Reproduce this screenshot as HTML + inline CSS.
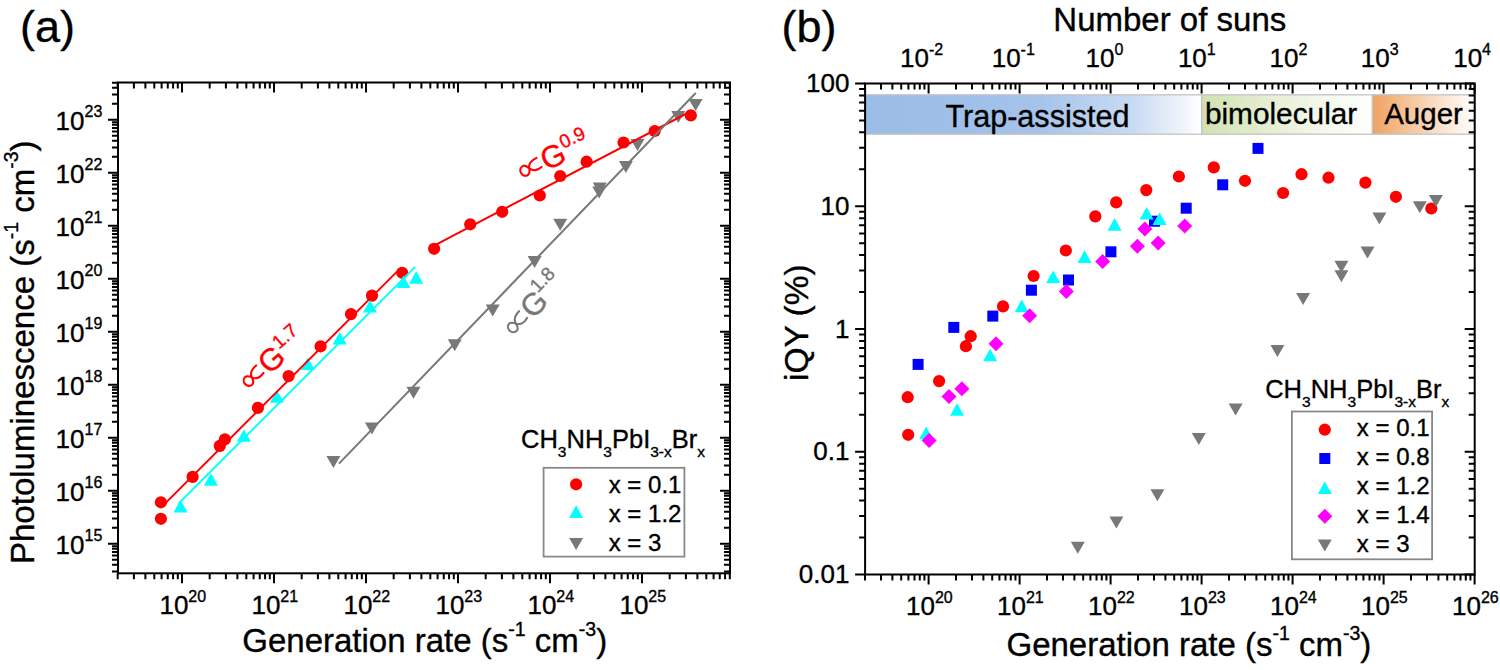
<!DOCTYPE html><html><head><meta charset="utf-8"><style>html,body{margin:0;padding:0;background:#fff;overflow:hidden}svg{display:block}text{stroke-width:0.35px}</style></head><body>
<svg width="1500" height="670" viewBox="0 0 1500 670" font-family='"Liberation Sans", sans-serif'>
<rect width="1500" height="670" fill="#fff"/>
<text x="20.0" y="42.1" font-size="45" text-anchor="start" fill="#000" stroke="#000" >(a)</text>
<path d="M326.4 456.0L340.4 456.0L333.4 468.0Z" fill="#787878"/>
<path d="M364.9 422.5L378.9 422.5L371.9 434.5Z" fill="#787878"/>
<path d="M406.5 386.7L420.5 386.7L413.5 398.7Z" fill="#787878"/>
<path d="M447.7 339.2L461.7 339.2L454.7 351.2Z" fill="#787878"/>
<path d="M485.7 304.5L499.7 304.5L492.7 316.5Z" fill="#787878"/>
<path d="M527.6 256.0L541.6 256.0L534.6 268.0Z" fill="#787878"/>
<path d="M553.2 218.8L567.2 218.8L560.2 230.8Z" fill="#787878"/>
<path d="M592.7 182.5L606.7 182.5L599.7 194.5Z" fill="#787878"/>
<path d="M592.2 186.6L606.2 186.6L599.2 198.6Z" fill="#787878"/>
<path d="M618.9 161.0L632.9 161.0L625.9 173.0Z" fill="#787878"/>
<path d="M630.5 139.0L644.5 139.0L637.5 151.0Z" fill="#787878"/>
<path d="M671.3 111.0L685.3 111.0L678.3 123.0Z" fill="#787878"/>
<path d="M688.6 99.0L702.6 99.0L695.6 111.0Z" fill="#787878"/>
<circle cx="160.9" cy="518.8" r="6.1" fill="#ff0000"/>
<circle cx="160.9" cy="502.3" r="6.1" fill="#ff0000"/>
<circle cx="192.6" cy="476.9" r="6.1" fill="#ff0000"/>
<circle cx="219.8" cy="445.9" r="6.1" fill="#ff0000"/>
<circle cx="224.9" cy="439.3" r="6.1" fill="#ff0000"/>
<circle cx="257.9" cy="407.9" r="6.1" fill="#ff0000"/>
<circle cx="288.6" cy="376.1" r="6.1" fill="#ff0000"/>
<circle cx="320.6" cy="346.3" r="6.1" fill="#ff0000"/>
<circle cx="351.0" cy="314.1" r="6.1" fill="#ff0000"/>
<circle cx="372.0" cy="295.6" r="6.1" fill="#ff0000"/>
<circle cx="402.2" cy="272.8" r="6.1" fill="#ff0000"/>
<circle cx="434.1" cy="248.8" r="6.1" fill="#ff0000"/>
<circle cx="470.2" cy="224.3" r="6.1" fill="#ff0000"/>
<circle cx="502.2" cy="211.8" r="6.1" fill="#ff0000"/>
<circle cx="539.8" cy="195.5" r="6.1" fill="#ff0000"/>
<circle cx="560.2" cy="176.0" r="6.1" fill="#ff0000"/>
<circle cx="586.6" cy="161.7" r="6.1" fill="#ff0000"/>
<circle cx="623.5" cy="142.5" r="6.1" fill="#ff0000"/>
<circle cx="654.7" cy="131.0" r="6.1" fill="#ff0000"/>
<circle cx="690.8" cy="115.4" r="6.1" fill="#ff0000"/>
<path d="M173.5 512.4L187.5 512.4L180.5 499.8Z" fill="#00ffff"/>
<path d="M203.9 485.7L217.9 485.7L210.9 473.1Z" fill="#00ffff"/>
<path d="M236.9 441.8L250.9 441.8L243.9 429.2Z" fill="#00ffff"/>
<path d="M269.9 402.7L283.9 402.7L276.9 390.1Z" fill="#00ffff"/>
<path d="M300.8 370.1L314.8 370.1L307.8 357.5Z" fill="#00ffff"/>
<path d="M332.6 344.5L346.6 344.5L339.6 331.9Z" fill="#00ffff"/>
<path d="M363.0 312.6L377.0 312.6L370.0 300.0Z" fill="#00ffff"/>
<path d="M396.5 288.0L410.5 288.0L403.5 275.4Z" fill="#00ffff"/>
<path d="M409.2 283.7L423.2 283.7L416.2 271.1Z" fill="#00ffff"/>
<path d="M162 506.6L399 269.6" stroke="#ff0000" stroke-width="2.0" fill="none"/>
<path d="M178.5 503.6L415.2 266.9" stroke="#00ffff" stroke-width="2.0" fill="none"/>
<path d="M434.1 245.6L690.4 111.5" stroke="#ff0000" stroke-width="2.0" fill="none"/>
<path d="M339 463.6L695.7 93" stroke="#787878" stroke-width="2.0" fill="none"/>
<g transform="translate(251.22,391.06) rotate(-41)"><path d="M20.47 -16.12C15.23 -16.12 10.72 -14.30 9.51 -10.01C8.53 -6.11 7.07 -4.16 4.88 -4.16C1.95 -4.16 0.00 -6.50 0.00 -9.36C0.00 -12.22 1.95 -14.56 4.88 -14.56C7.31 -14.56 8.53 -11.96 9.75 -9.36C11.58 -5.72 15.23 -4.16 21.21 -5.72" fill="none" stroke="#ff0000" stroke-width="2.1" stroke-linecap="round" stroke-linejoin="round"/><text x="24.0" y="0" font-size="31" fill="#ff0000" stroke="#ff0000">G<tspan dx="0" dy="-13" font-size="19">1.7</tspan></text></g>
<g transform="translate(524.80,181.15) rotate(-25)"><path d="M20.47 -16.12C15.23 -16.12 10.72 -14.30 9.51 -10.01C8.53 -6.11 7.07 -4.16 4.88 -4.16C1.95 -4.16 0.00 -6.50 0.00 -9.36C0.00 -12.22 1.95 -14.56 4.88 -14.56C7.31 -14.56 8.53 -11.96 9.75 -9.36C11.58 -5.72 15.23 -4.16 21.21 -5.72" fill="none" stroke="#ff0000" stroke-width="2.1" stroke-linecap="round" stroke-linejoin="round"/><text x="24.0" y="0" font-size="31" fill="#ff0000" stroke="#ff0000">G<tspan dx="0" dy="-13" font-size="19">0.9</tspan></text></g>
<g transform="translate(516.41,337.16) rotate(-46)"><path d="M20.47 -16.12C15.23 -16.12 10.72 -14.30 9.51 -10.01C8.53 -6.11 7.07 -4.16 4.88 -4.16C1.95 -4.16 0.00 -6.50 0.00 -9.36C0.00 -12.22 1.95 -14.56 4.88 -14.56C7.31 -14.56 8.53 -11.96 9.75 -9.36C11.58 -5.72 15.23 -4.16 21.21 -5.72" fill="none" stroke="#787878" stroke-width="2.1" stroke-linecap="round" stroke-linejoin="round"/><text x="24.0" y="0" font-size="31" fill="#787878" stroke="#787878">G<tspan dx="-2" dy="-15" font-size="19">1.8</tspan></text></g>
<text x="521.0" y="447.9" font-size="25.5" text-anchor="start" fill="#000" stroke="#000" >CH<tspan dy="9" font-size="15.5">3</tspan><tspan dy="-9">NH</tspan><tspan dy="9" font-size="15.5">3</tspan><tspan dy="-9">PbI</tspan><tspan dy="9" font-size="15.5">3-x</tspan><tspan dy="-9">Br</tspan><tspan dy="9" font-size="15.5">x</tspan></text>
<rect x="543.6" y="467.8" width="140.8" height="88.8" fill="#fff" stroke="#888" stroke-width="1.8"/>
<circle cx="576.1" cy="484.3" r="6.1" fill="#ff0000"/>
<path d="M569.1 517.9L583.1 517.9L576.1 505.3Z" fill="#00ffff"/>
<path d="M569.1 538.0L583.1 538.0L576.1 550.0Z" fill="#787878"/>
<text x="608.7" y="492.7" font-size="24" text-anchor="start" fill="#000" stroke="#000" >x = 0.1</text>
<text x="608.7" y="521.6" font-size="24" text-anchor="start" fill="#000" stroke="#000" >x = 1.2</text>
<text x="608.7" y="550.5" font-size="24" text-anchor="start" fill="#000" stroke="#000" >x = 3</text>
<rect x="118.0" y="82.5" width="612.0" height="490.8" fill="none" stroke="#000" stroke-width="2.0"/>
<path d="M117.69 573.3v6.0M117.69 82.5v6.0M133.90 573.3v6.0M133.90 82.5v6.0M145.39 573.3v6.0M145.39 82.5v6.0M154.31 573.3v6.0M154.31 82.5v6.0M161.59 573.3v6.0M161.59 82.5v6.0M167.75 573.3v6.0M167.75 82.5v6.0M173.08 573.3v6.0M173.08 82.5v6.0M177.79 573.3v6.0M177.79 82.5v6.0M182.00 573.3v10.0M182.00 82.5v10.0M209.69 573.3v6.0M209.69 82.5v6.0M225.90 573.3v6.0M225.90 82.5v6.0M237.39 573.3v6.0M237.39 82.5v6.0M246.31 573.3v6.0M246.31 82.5v6.0M253.59 573.3v6.0M253.59 82.5v6.0M259.75 573.3v6.0M259.75 82.5v6.0M265.08 573.3v6.0M265.08 82.5v6.0M269.79 573.3v6.0M269.79 82.5v6.0M274.00 573.3v10.0M274.00 82.5v10.0M301.69 573.3v6.0M301.69 82.5v6.0M317.90 573.3v6.0M317.90 82.5v6.0M329.39 573.3v6.0M329.39 82.5v6.0M338.31 573.3v6.0M338.31 82.5v6.0M345.59 573.3v6.0M345.59 82.5v6.0M351.75 573.3v6.0M351.75 82.5v6.0M357.08 573.3v6.0M357.08 82.5v6.0M361.79 573.3v6.0M361.79 82.5v6.0M366.00 573.3v10.0M366.00 82.5v10.0M393.69 573.3v6.0M393.69 82.5v6.0M409.90 573.3v6.0M409.90 82.5v6.0M421.39 573.3v6.0M421.39 82.5v6.0M430.31 573.3v6.0M430.31 82.5v6.0M437.59 573.3v6.0M437.59 82.5v6.0M443.75 573.3v6.0M443.75 82.5v6.0M449.08 573.3v6.0M449.08 82.5v6.0M453.79 573.3v6.0M453.79 82.5v6.0M458.00 573.3v10.0M458.00 82.5v10.0M485.69 573.3v6.0M485.69 82.5v6.0M501.90 573.3v6.0M501.90 82.5v6.0M513.39 573.3v6.0M513.39 82.5v6.0M522.31 573.3v6.0M522.31 82.5v6.0M529.59 573.3v6.0M529.59 82.5v6.0M535.75 573.3v6.0M535.75 82.5v6.0M541.08 573.3v6.0M541.08 82.5v6.0M545.79 573.3v6.0M545.79 82.5v6.0M550.00 573.3v10.0M550.00 82.5v10.0M577.69 573.3v6.0M577.69 82.5v6.0M593.90 573.3v6.0M593.90 82.5v6.0M605.39 573.3v6.0M605.39 82.5v6.0M614.31 573.3v6.0M614.31 82.5v6.0M621.59 573.3v6.0M621.59 82.5v6.0M627.75 573.3v6.0M627.75 82.5v6.0M633.08 573.3v6.0M633.08 82.5v6.0M637.79 573.3v6.0M637.79 82.5v6.0M642.00 573.3v10.0M642.00 82.5v10.0M669.69 573.3v6.0M669.69 82.5v6.0M685.90 573.3v6.0M685.90 82.5v6.0M697.39 573.3v6.0M697.39 82.5v6.0M706.31 573.3v6.0M706.31 82.5v6.0M713.59 573.3v6.0M713.59 82.5v6.0M719.75 573.3v6.0M719.75 82.5v6.0M725.08 573.3v6.0M725.08 82.5v6.0M729.79 573.3v6.0M729.79 82.5v6.0" stroke="#000" stroke-width="2.0" fill="none"/>
<path d="M118.0 571.41h-6.0M730.0 571.41h-6.0M118.0 564.79h-6.0M730.0 564.79h-6.0M118.0 559.65h-6.0M730.0 559.65h-6.0M118.0 555.46h-6.0M730.0 555.46h-6.0M118.0 551.91h-6.0M730.0 551.91h-6.0M118.0 548.84h-6.0M730.0 548.84h-6.0M118.0 546.13h-6.0M730.0 546.13h-6.0M118.0 543.70h-10.0M730.0 543.70h-10.0M118.0 527.75h-6.0M730.0 527.75h-6.0M118.0 518.41h-6.0M730.0 518.41h-6.0M118.0 511.79h-6.0M730.0 511.79h-6.0M118.0 506.65h-6.0M730.0 506.65h-6.0M118.0 502.46h-6.0M730.0 502.46h-6.0M118.0 498.91h-6.0M730.0 498.91h-6.0M118.0 495.84h-6.0M730.0 495.84h-6.0M118.0 493.13h-6.0M730.0 493.13h-6.0M118.0 490.70h-10.0M730.0 490.70h-10.0M118.0 474.75h-6.0M730.0 474.75h-6.0M118.0 465.41h-6.0M730.0 465.41h-6.0M118.0 458.79h-6.0M730.0 458.79h-6.0M118.0 453.65h-6.0M730.0 453.65h-6.0M118.0 449.46h-6.0M730.0 449.46h-6.0M118.0 445.91h-6.0M730.0 445.91h-6.0M118.0 442.84h-6.0M730.0 442.84h-6.0M118.0 440.13h-6.0M730.0 440.13h-6.0M118.0 437.70h-10.0M730.0 437.70h-10.0M118.0 421.75h-6.0M730.0 421.75h-6.0M118.0 412.41h-6.0M730.0 412.41h-6.0M118.0 405.79h-6.0M730.0 405.79h-6.0M118.0 400.65h-6.0M730.0 400.65h-6.0M118.0 396.46h-6.0M730.0 396.46h-6.0M118.0 392.91h-6.0M730.0 392.91h-6.0M118.0 389.84h-6.0M730.0 389.84h-6.0M118.0 387.13h-6.0M730.0 387.13h-6.0M118.0 384.70h-10.0M730.0 384.70h-10.0M118.0 368.75h-6.0M730.0 368.75h-6.0M118.0 359.41h-6.0M730.0 359.41h-6.0M118.0 352.79h-6.0M730.0 352.79h-6.0M118.0 347.65h-6.0M730.0 347.65h-6.0M118.0 343.46h-6.0M730.0 343.46h-6.0M118.0 339.91h-6.0M730.0 339.91h-6.0M118.0 336.84h-6.0M730.0 336.84h-6.0M118.0 334.13h-6.0M730.0 334.13h-6.0M118.0 331.70h-10.0M730.0 331.70h-10.0M118.0 315.75h-6.0M730.0 315.75h-6.0M118.0 306.41h-6.0M730.0 306.41h-6.0M118.0 299.79h-6.0M730.0 299.79h-6.0M118.0 294.65h-6.0M730.0 294.65h-6.0M118.0 290.46h-6.0M730.0 290.46h-6.0M118.0 286.91h-6.0M730.0 286.91h-6.0M118.0 283.84h-6.0M730.0 283.84h-6.0M118.0 281.13h-6.0M730.0 281.13h-6.0M118.0 278.70h-10.0M730.0 278.70h-10.0M118.0 262.75h-6.0M730.0 262.75h-6.0M118.0 253.41h-6.0M730.0 253.41h-6.0M118.0 246.79h-6.0M730.0 246.79h-6.0M118.0 241.65h-6.0M730.0 241.65h-6.0M118.0 237.46h-6.0M730.0 237.46h-6.0M118.0 233.91h-6.0M730.0 233.91h-6.0M118.0 230.84h-6.0M730.0 230.84h-6.0M118.0 228.13h-6.0M730.0 228.13h-6.0M118.0 225.70h-10.0M730.0 225.70h-10.0M118.0 209.75h-6.0M730.0 209.75h-6.0M118.0 200.41h-6.0M730.0 200.41h-6.0M118.0 193.79h-6.0M730.0 193.79h-6.0M118.0 188.65h-6.0M730.0 188.65h-6.0M118.0 184.46h-6.0M730.0 184.46h-6.0M118.0 180.91h-6.0M730.0 180.91h-6.0M118.0 177.84h-6.0M730.0 177.84h-6.0M118.0 175.13h-6.0M730.0 175.13h-6.0M118.0 172.70h-10.0M730.0 172.70h-10.0M118.0 156.75h-6.0M730.0 156.75h-6.0M118.0 147.41h-6.0M730.0 147.41h-6.0M118.0 140.79h-6.0M730.0 140.79h-6.0M118.0 135.65h-6.0M730.0 135.65h-6.0M118.0 131.46h-6.0M730.0 131.46h-6.0M118.0 127.91h-6.0M730.0 127.91h-6.0M118.0 124.84h-6.0M730.0 124.84h-6.0M118.0 122.13h-6.0M730.0 122.13h-6.0M118.0 119.70h-10.0M730.0 119.70h-10.0M118.0 103.75h-6.0M730.0 103.75h-6.0M118.0 94.41h-6.0M730.0 94.41h-6.0M118.0 87.79h-6.0M730.0 87.79h-6.0M118.0 82.65h-6.0M730.0 82.65h-6.0" stroke="#000" stroke-width="2.0" fill="none"/>
<text x="182.8" y="614.0" font-size="26" text-anchor="middle" stroke="#000">10<tspan dy="-12.3" font-size="16">20</tspan></text>
<text x="274.8" y="614.0" font-size="26" text-anchor="middle" stroke="#000">10<tspan dy="-12.3" font-size="16">21</tspan></text>
<text x="366.8" y="614.0" font-size="26" text-anchor="middle" stroke="#000">10<tspan dy="-12.3" font-size="16">22</tspan></text>
<text x="458.8" y="614.0" font-size="26" text-anchor="middle" stroke="#000">10<tspan dy="-12.3" font-size="16">23</tspan></text>
<text x="550.8" y="614.0" font-size="26" text-anchor="middle" stroke="#000">10<tspan dy="-12.3" font-size="16">24</tspan></text>
<text x="642.8" y="614.0" font-size="26" text-anchor="middle" stroke="#000">10<tspan dy="-12.3" font-size="16">25</tspan></text>
<text x="102.3" y="553.7" font-size="26" text-anchor="end" stroke="#000">10<tspan dy="-12.3" font-size="16">15</tspan></text>
<text x="102.3" y="500.7" font-size="26" text-anchor="end" stroke="#000">10<tspan dy="-12.3" font-size="16">16</tspan></text>
<text x="102.3" y="447.7" font-size="26" text-anchor="end" stroke="#000">10<tspan dy="-12.3" font-size="16">17</tspan></text>
<text x="102.3" y="394.7" font-size="26" text-anchor="end" stroke="#000">10<tspan dy="-12.3" font-size="16">18</tspan></text>
<text x="102.3" y="341.7" font-size="26" text-anchor="end" stroke="#000">10<tspan dy="-12.3" font-size="16">19</tspan></text>
<text x="102.3" y="288.7" font-size="26" text-anchor="end" stroke="#000">10<tspan dy="-12.3" font-size="16">20</tspan></text>
<text x="102.3" y="235.7" font-size="26" text-anchor="end" stroke="#000">10<tspan dy="-12.3" font-size="16">21</tspan></text>
<text x="102.3" y="182.7" font-size="26" text-anchor="end" stroke="#000">10<tspan dy="-12.3" font-size="16">22</tspan></text>
<text x="102.3" y="129.7" font-size="26" text-anchor="end" stroke="#000">10<tspan dy="-12.3" font-size="16">23</tspan></text>
<text x="242.3" y="651.5" font-size="33" text-anchor="start" fill="#000" stroke="#000" >Generation rate (s<tspan dy="-16" font-size="19.5">-1</tspan><tspan dy="16"> cm</tspan><tspan dy="-16" font-size="19.5">-3</tspan><tspan dy="16">)</tspan></text>
<text transform="translate(33.6,564.0) rotate(-90)" font-size="33" stroke="#000">Photoluminescence (s<tspan dy="-16" font-size="19.5">-1</tspan><tspan dy="16"> cm</tspan><tspan dy="-16" font-size="19.5">-3</tspan><tspan dy="16">)</tspan></text>
<text x="781.4" y="42.1" font-size="45" text-anchor="start" fill="#000" stroke="#000" >(b)</text>
<defs>
<linearGradient id="gb" x1="0" x2="1" y1="0" y2="0"><stop offset="0" stop-color="#9bbce6"/><stop offset="0.5" stop-color="#a4c2ea"/><stop offset="0.8" stop-color="#c9dbf3"/><stop offset="1" stop-color="#ffffff"/></linearGradient>
<linearGradient id="gg" x1="0" x2="1" y1="0" y2="0"><stop offset="0" stop-color="#d2e1b1"/><stop offset="0.7" stop-color="#f4f8ec"/><stop offset="1" stop-color="#ffffff"/></linearGradient>
<linearGradient id="go" x1="0" x2="1" y1="0" y2="0"><stop offset="0" stop-color="#f0a262"/><stop offset="0.6" stop-color="#f9dcc3"/><stop offset="1" stop-color="#ffffff"/></linearGradient>
</defs>
<rect x="865.1" y="94.8" width="336.6" height="39.4" fill="url(#gb)" stroke="#c4c4c4" stroke-width="1.3"/>
<rect x="1201.7" y="94.8" width="170.7" height="39.4" fill="url(#gg)" stroke="#c4c4c4" stroke-width="1.3"/>
<rect x="1372.4" y="94.8" width="102.3" height="39.4" fill="url(#go)" stroke="#c4c4c4" stroke-width="1.3"/>
<text x="945.4" y="126.7" font-size="30.6" text-anchor="start" fill="#000" stroke="#000" >Trap-assisted</text>
<text x="1204.9" y="123.7" font-size="29.8" text-anchor="start" fill="#000" stroke="#000" >bimolecular</text>
<text x="1384.2" y="124.4" font-size="29.5" text-anchor="start" fill="#000" stroke="#000" >Auger</text>
<circle cx="907.7" cy="397.2" r="6.1" fill="#ff0000"/>
<circle cx="908.2" cy="434.8" r="6.1" fill="#ff0000"/>
<circle cx="939.1" cy="381.1" r="6.1" fill="#ff0000"/>
<circle cx="965.9" cy="346.2" r="6.1" fill="#ff0000"/>
<circle cx="970.7" cy="336.2" r="6.1" fill="#ff0000"/>
<circle cx="1003.0" cy="306.4" r="6.1" fill="#ff0000"/>
<circle cx="1033.6" cy="276.0" r="6.1" fill="#ff0000"/>
<circle cx="1065.8" cy="250.5" r="6.1" fill="#ff0000"/>
<circle cx="1095.3" cy="216.4" r="6.1" fill="#ff0000"/>
<circle cx="1116.2" cy="202.4" r="6.1" fill="#ff0000"/>
<circle cx="1146.3" cy="190.1" r="6.1" fill="#ff0000"/>
<circle cx="1178.9" cy="176.5" r="6.1" fill="#ff0000"/>
<circle cx="1213.8" cy="167.4" r="6.1" fill="#ff0000"/>
<circle cx="1245.0" cy="180.8" r="6.1" fill="#ff0000"/>
<circle cx="1283.1" cy="193.0" r="6.1" fill="#ff0000"/>
<circle cx="1301.5" cy="174.2" r="6.1" fill="#ff0000"/>
<circle cx="1328.5" cy="177.7" r="6.1" fill="#ff0000"/>
<circle cx="1365.4" cy="182.6" r="6.1" fill="#ff0000"/>
<circle cx="1395.9" cy="196.8" r="6.1" fill="#ff0000"/>
<circle cx="1431.3" cy="208.5" r="6.1" fill="#ff0000"/>
<rect x="912.6" y="358.9" width="11" height="11" fill="#0000ff"/>
<rect x="948.3" y="321.9" width="11" height="11" fill="#0000ff"/>
<rect x="987.3" y="310.6" width="11" height="11" fill="#0000ff"/>
<rect x="1025.9" y="284.7" width="11" height="11" fill="#0000ff"/>
<rect x="1063.0" y="274.5" width="11" height="11" fill="#0000ff"/>
<rect x="1105.4" y="246.3" width="11" height="11" fill="#0000ff"/>
<rect x="1149.0" y="215.7" width="11" height="11" fill="#0000ff"/>
<rect x="1180.7" y="202.7" width="11" height="11" fill="#0000ff"/>
<rect x="1217.2" y="179.3" width="11" height="11" fill="#0000ff"/>
<rect x="1252.5" y="142.9" width="11" height="11" fill="#0000ff"/>
<path d="M919.2 439.2L933.2 439.2L926.2 426.6Z" fill="#00ffff"/>
<path d="M950.0 415.8L964.0 415.8L957.0 403.2Z" fill="#00ffff"/>
<path d="M983.1 361.3L997.1 361.3L990.1 348.7Z" fill="#00ffff"/>
<path d="M1014.7 312.2L1028.7 312.2L1021.7 299.6Z" fill="#00ffff"/>
<path d="M1046.2 283.1L1060.2 283.1L1053.2 270.5Z" fill="#00ffff"/>
<path d="M1077.6 262.9L1091.6 262.9L1084.6 250.3Z" fill="#00ffff"/>
<path d="M1107.6 230.7L1121.6 230.7L1114.6 218.1Z" fill="#00ffff"/>
<path d="M1139.6 219.5L1153.6 219.5L1146.6 206.9Z" fill="#00ffff"/>
<path d="M1152.5 225.1L1166.5 225.1L1159.5 212.5Z" fill="#00ffff"/>
<path d="M929.1 433.1L936.6 440.6L929.1 448.1L921.6 440.6Z" fill="#ff00ff"/>
<path d="M949.0 389.1L956.5 396.6L949.0 404.1L941.5 396.6Z" fill="#ff00ff"/>
<path d="M961.9 381.3L969.4 388.8L961.9 396.3L954.4 388.8Z" fill="#ff00ff"/>
<path d="M996.0 336.3L1003.5 343.8L996.0 351.3L988.5 343.8Z" fill="#ff00ff"/>
<path d="M1029.6 308.3L1037.1 315.8L1029.6 323.3L1022.1 315.8Z" fill="#ff00ff"/>
<path d="M1066.3 284.0L1073.8 291.5L1066.3 299.0L1058.8 291.5Z" fill="#ff00ff"/>
<path d="M1102.6 254.0L1110.1 261.5L1102.6 269.0L1095.1 261.5Z" fill="#ff00ff"/>
<path d="M1137.4 238.7L1144.9 246.2L1137.4 253.7L1129.9 246.2Z" fill="#ff00ff"/>
<path d="M1144.8 221.6L1152.3 229.1L1144.8 236.6L1137.3 229.1Z" fill="#ff00ff"/>
<path d="M1158.2 235.6L1165.7 243.1L1158.2 250.6L1150.7 243.1Z" fill="#ff00ff"/>
<path d="M1184.7 218.5L1192.2 226.0L1184.7 233.5L1177.2 226.0Z" fill="#ff00ff"/>
<path d="M1070.8 541.8L1084.8 541.8L1077.8 553.8Z" fill="#787878"/>
<path d="M1109.4 516.5L1123.4 516.5L1116.4 528.5Z" fill="#787878"/>
<path d="M1150.4 489.3L1164.4 489.3L1157.4 501.3Z" fill="#787878"/>
<path d="M1191.8 432.9L1205.8 432.9L1198.8 444.9Z" fill="#787878"/>
<path d="M1228.6 403.6L1242.6 403.6L1235.6 415.6Z" fill="#787878"/>
<path d="M1270.4 345.1L1284.4 345.1L1277.4 357.1Z" fill="#787878"/>
<path d="M1296.1 293.0L1310.1 293.0L1303.1 305.0Z" fill="#787878"/>
<path d="M1334.4 260.7L1348.4 260.7L1341.4 272.7Z" fill="#787878"/>
<path d="M1334.4 270.3L1348.4 270.3L1341.4 282.3Z" fill="#787878"/>
<path d="M1360.5 246.6L1374.5 246.6L1367.5 258.6Z" fill="#787878"/>
<path d="M1372.4 212.5L1386.4 212.5L1379.4 224.5Z" fill="#787878"/>
<path d="M1412.8 201.2L1426.8 201.2L1419.8 213.2Z" fill="#787878"/>
<path d="M1428.9 195.1L1442.9 195.1L1435.9 207.1Z" fill="#787878"/>
<text x="1265.2" y="397.8" font-size="25.5" text-anchor="start" fill="#000" stroke="#000" >CH<tspan dy="9" font-size="15.5">3</tspan><tspan dy="-9">NH</tspan><tspan dy="9" font-size="15.5">3</tspan><tspan dy="-9">PbI</tspan><tspan dy="9" font-size="15.5">3-x</tspan><tspan dy="-9">Br</tspan><tspan dy="9" font-size="15.5">x</tspan></text>
<rect x="1291.9" y="411.5" width="140.2" height="147.8" fill="#fff" stroke="#888" stroke-width="1.8"/>
<circle cx="1324.8" cy="429.7" r="6.1" fill="#ff0000"/>
<rect x="1319.3" y="453.0" width="11" height="11" fill="#0000ff"/>
<path d="M1317.8 494.0L1331.8 494.0L1324.8 481.4Z" fill="#00ffff"/>
<path d="M1324.8 508.7L1332.3 516.2L1324.8 523.7L1317.3 516.2Z" fill="#ff00ff"/>
<path d="M1317.8 539.4L1331.8 539.4L1324.8 551.4Z" fill="#787878"/>
<text x="1356.8" y="436.4" font-size="24" text-anchor="start" fill="#000" stroke="#000" >x = 0.1</text>
<text x="1356.8" y="465.2" font-size="24" text-anchor="start" fill="#000" stroke="#000" >x = 0.8</text>
<text x="1356.8" y="494.4" font-size="24" text-anchor="start" fill="#000" stroke="#000" >x = 1.2</text>
<text x="1356.8" y="522.9" font-size="24" text-anchor="start" fill="#000" stroke="#000" >x = 1.4</text>
<text x="1356.8" y="552.1" font-size="24" text-anchor="start" fill="#000" stroke="#000" >x = 3</text>
<rect x="865.1" y="83.5" width="609.6" height="491.0" fill="none" stroke="#000" stroke-width="2.0"/>
<path d="M864.99 574.5v6.0M864.99 83.5v6.0M881.02 574.5v6.0M881.02 83.5v6.0M892.39 574.5v6.0M892.39 83.5v6.0M901.21 574.5v6.0M901.21 83.5v6.0M908.41 574.5v6.0M908.41 83.5v6.0M914.50 574.5v6.0M914.50 83.5v6.0M919.78 574.5v6.0M919.78 83.5v6.0M924.44 574.5v6.0M924.44 83.5v6.0M928.60 574.5v10.0M928.60 83.5v10.0M955.99 574.5v6.0M955.99 83.5v6.0M972.02 574.5v6.0M972.02 83.5v6.0M983.39 574.5v6.0M983.39 83.5v6.0M992.21 574.5v6.0M992.21 83.5v6.0M999.41 574.5v6.0M999.41 83.5v6.0M1005.50 574.5v6.0M1005.50 83.5v6.0M1010.78 574.5v6.0M1010.78 83.5v6.0M1015.44 574.5v6.0M1015.44 83.5v6.0M1019.60 574.5v10.0M1019.60 83.5v10.0M1046.99 574.5v6.0M1046.99 83.5v6.0M1063.02 574.5v6.0M1063.02 83.5v6.0M1074.39 574.5v6.0M1074.39 83.5v6.0M1083.21 574.5v6.0M1083.21 83.5v6.0M1090.41 574.5v6.0M1090.41 83.5v6.0M1096.50 574.5v6.0M1096.50 83.5v6.0M1101.78 574.5v6.0M1101.78 83.5v6.0M1106.44 574.5v6.0M1106.44 83.5v6.0M1110.60 574.5v10.0M1110.60 83.5v10.0M1137.99 574.5v6.0M1137.99 83.5v6.0M1154.02 574.5v6.0M1154.02 83.5v6.0M1165.39 574.5v6.0M1165.39 83.5v6.0M1174.21 574.5v6.0M1174.21 83.5v6.0M1181.41 574.5v6.0M1181.41 83.5v6.0M1187.50 574.5v6.0M1187.50 83.5v6.0M1192.78 574.5v6.0M1192.78 83.5v6.0M1197.44 574.5v6.0M1197.44 83.5v6.0M1201.60 574.5v10.0M1201.60 83.5v10.0M1228.99 574.5v6.0M1228.99 83.5v6.0M1245.02 574.5v6.0M1245.02 83.5v6.0M1256.39 574.5v6.0M1256.39 83.5v6.0M1265.21 574.5v6.0M1265.21 83.5v6.0M1272.41 574.5v6.0M1272.41 83.5v6.0M1278.50 574.5v6.0M1278.50 83.5v6.0M1283.78 574.5v6.0M1283.78 83.5v6.0M1288.44 574.5v6.0M1288.44 83.5v6.0M1292.60 574.5v10.0M1292.60 83.5v10.0M1319.99 574.5v6.0M1319.99 83.5v6.0M1336.02 574.5v6.0M1336.02 83.5v6.0M1347.39 574.5v6.0M1347.39 83.5v6.0M1356.21 574.5v6.0M1356.21 83.5v6.0M1363.41 574.5v6.0M1363.41 83.5v6.0M1369.50 574.5v6.0M1369.50 83.5v6.0M1374.78 574.5v6.0M1374.78 83.5v6.0M1379.44 574.5v6.0M1379.44 83.5v6.0M1383.60 574.5v10.0M1383.60 83.5v10.0M1410.99 574.5v6.0M1410.99 83.5v6.0M1427.02 574.5v6.0M1427.02 83.5v6.0M1438.39 574.5v6.0M1438.39 83.5v6.0M1447.21 574.5v6.0M1447.21 83.5v6.0M1454.41 574.5v6.0M1454.41 83.5v6.0M1460.50 574.5v6.0M1460.50 83.5v6.0M1465.78 574.5v6.0M1465.78 83.5v6.0M1470.44 574.5v6.0M1470.44 83.5v6.0M1474.60 574.5v10.0M1474.60 83.5v10.0" stroke="#000" stroke-width="2.0" fill="none"/>
<path d="M865.1 574.50h-10.0M1474.7 574.50h-10.0M865.1 537.55h-6.0M1474.7 537.55h-6.0M865.1 515.93h-6.0M1474.7 515.93h-6.0M865.1 500.60h-6.0M1474.7 500.60h-6.0M865.1 488.70h-6.0M1474.7 488.70h-6.0M865.1 478.98h-6.0M1474.7 478.98h-6.0M865.1 470.76h-6.0M1474.7 470.76h-6.0M865.1 463.65h-6.0M1474.7 463.65h-6.0M865.1 457.37h-6.0M1474.7 457.37h-6.0M865.1 451.75h-10.0M1474.7 451.75h-10.0M865.1 414.80h-6.0M1474.7 414.80h-6.0M865.1 393.18h-6.0M1474.7 393.18h-6.0M865.1 377.85h-6.0M1474.7 377.85h-6.0M865.1 365.95h-6.0M1474.7 365.95h-6.0M865.1 356.23h-6.0M1474.7 356.23h-6.0M865.1 348.01h-6.0M1474.7 348.01h-6.0M865.1 340.90h-6.0M1474.7 340.90h-6.0M865.1 334.62h-6.0M1474.7 334.62h-6.0M865.1 329.00h-10.0M1474.7 329.00h-10.0M865.1 292.05h-6.0M1474.7 292.05h-6.0M865.1 270.43h-6.0M1474.7 270.43h-6.0M865.1 255.10h-6.0M1474.7 255.10h-6.0M865.1 243.20h-6.0M1474.7 243.20h-6.0M865.1 233.48h-6.0M1474.7 233.48h-6.0M865.1 225.26h-6.0M1474.7 225.26h-6.0M865.1 218.15h-6.0M1474.7 218.15h-6.0M865.1 211.87h-6.0M1474.7 211.87h-6.0M865.1 206.25h-10.0M1474.7 206.25h-10.0M865.1 169.30h-6.0M1474.7 169.30h-6.0M865.1 147.68h-6.0M1474.7 147.68h-6.0M865.1 132.35h-6.0M1474.7 132.35h-6.0M865.1 120.45h-6.0M1474.7 120.45h-6.0M865.1 110.73h-6.0M1474.7 110.73h-6.0M865.1 102.51h-6.0M1474.7 102.51h-6.0M865.1 95.40h-6.0M1474.7 95.40h-6.0M865.1 89.12h-6.0M1474.7 89.12h-6.0M865.1 83.50h-10.0M1474.7 83.50h-10.0" stroke="#000" stroke-width="2.0" fill="none"/>
<text x="929.4" y="614.8" font-size="26" text-anchor="middle" stroke="#000">10<tspan dy="-12.3" font-size="16">20</tspan></text>
<text x="1020.4" y="614.8" font-size="26" text-anchor="middle" stroke="#000">10<tspan dy="-12.3" font-size="16">21</tspan></text>
<text x="1111.4" y="614.8" font-size="26" text-anchor="middle" stroke="#000">10<tspan dy="-12.3" font-size="16">22</tspan></text>
<text x="1202.4" y="614.8" font-size="26" text-anchor="middle" stroke="#000">10<tspan dy="-12.3" font-size="16">23</tspan></text>
<text x="1293.4" y="614.8" font-size="26" text-anchor="middle" stroke="#000">10<tspan dy="-12.3" font-size="16">24</tspan></text>
<text x="1384.4" y="614.8" font-size="26" text-anchor="middle" stroke="#000">10<tspan dy="-12.3" font-size="16">25</tspan></text>
<text x="1475.4" y="614.8" font-size="26" text-anchor="middle" stroke="#000">10<tspan dy="-12.3" font-size="16">26</tspan></text>
<text x="900.0" y="67.0" font-size="26" text-anchor="start" stroke="#000">10<tspan dy="-12.3" font-size="16">-2</tspan></text>
<text x="991.7" y="67.0" font-size="26" text-anchor="start" stroke="#000">10<tspan dy="-12.3" font-size="16">-1</tspan></text>
<text x="1085.6" y="67.0" font-size="26" text-anchor="start" stroke="#000">10<tspan dy="-12.3" font-size="16">0</tspan></text>
<text x="1177.9" y="67.0" font-size="26" text-anchor="start" stroke="#000">10<tspan dy="-12.3" font-size="16">1</tspan></text>
<text x="1269.6" y="67.0" font-size="26" text-anchor="start" stroke="#000">10<tspan dy="-12.3" font-size="16">2</tspan></text>
<text x="1360.8" y="67.0" font-size="26" text-anchor="start" stroke="#000">10<tspan dy="-12.3" font-size="16">3</tspan></text>
<text x="1453.2" y="67.0" font-size="26" text-anchor="start" stroke="#000">10<tspan dy="-12.3" font-size="16">4</tspan></text>
<text x="849.4" y="92.0" font-size="26" text-anchor="end" fill="#000" stroke="#000" >100</text>
<text x="849.4" y="214.8" font-size="26" text-anchor="end" fill="#000" stroke="#000" >10</text>
<text x="849.4" y="337.5" font-size="26" text-anchor="end" fill="#000" stroke="#000" >1</text>
<text x="849.4" y="460.2" font-size="26" text-anchor="end" fill="#000" stroke="#000" >0.1</text>
<text x="849.4" y="583.0" font-size="26" text-anchor="end" fill="#000" stroke="#000" >0.01</text>
<text x="1053.3" y="31.2" font-size="33" text-anchor="start" fill="#000" stroke="#000" >Number of suns</text>
<text x="1006.5" y="655.8" font-size="33" text-anchor="start" fill="#000" stroke="#000" >Generation rate (s<tspan dy="-16" font-size="19.5">-1</tspan><tspan dy="16"> cm</tspan><tspan dy="-16" font-size="19.5">-3</tspan><tspan dy="16">)</tspan></text>
<text transform="translate(807.5,381) rotate(-90)" font-size="33.5" stroke="#000">iQY (%)</text>
</svg></body></html>
